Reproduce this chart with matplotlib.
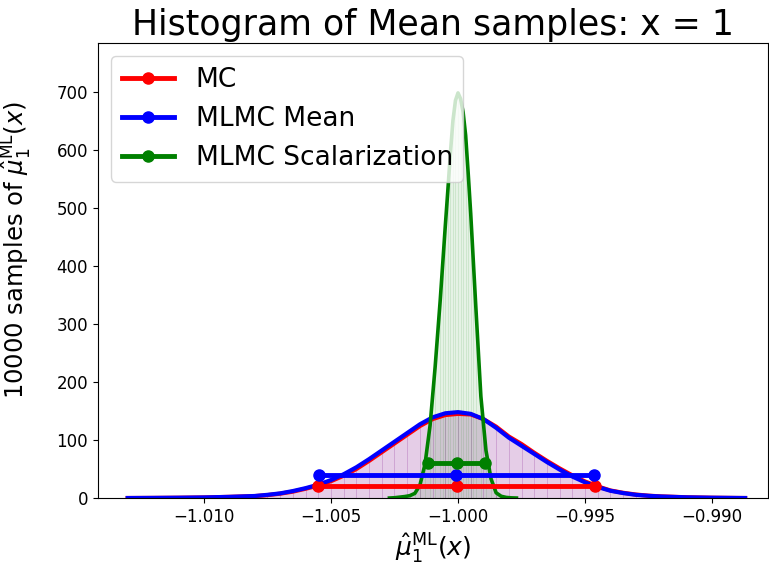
import numpy as np
import matplotlib
matplotlib.use("Agg")
import matplotlib.pyplot as plt

# ---- data ----
x_wide = [-1.0130, -1.0120, -1.0110, -1.0100, -1.0090, -1.0080, -1.0075, -1.0070,
          -1.0065, -1.0060, -1.0055, -1.0050, -1.0045, -1.0040, -1.0035, -1.0030,
          -1.0025, -1.0020, -1.0015, -1.0010, -1.0005, -1.0000, -0.9995, -0.9990,
          -0.9985, -0.9980, -0.9975, -0.9970, -0.9965, -0.9960, -0.9955, -0.9950,
          -0.9945, -0.9940, -0.9935, -0.9930, -0.9925, -0.9920, -0.9910, -0.9900,
          -0.9890, -0.9887]
mlmc_mean_curve = [0, 0.2, 0.5, 1, 2, 3.5, 5.5, 8,
                   12, 17, 23, 31, 41, 53, 67, 82,
                   97, 112, 127, 139, 146, 148, 145, 136,
                   121, 104, 90, 76, 62, 49, 37, 27,
                   19, 12.5, 8.5, 5.5, 3.8, 2.6, 1.2, 0.5,
                   0.1, 0]
mc_curve = [0, 0.2, 0.5, 1, 2, 3.3, 5, 7.5,
            11, 16, 21.5, 29, 38.5, 50, 64, 79,
            94, 109, 124, 136, 143, 145, 144, 136,
            123, 106, 93, 78, 64, 51, 39, 28.5,
            20, 13, 9, 6, 4, 2.8, 1.3, 0.5,
            0.1, 0]

x_narrow = [-1.0027, -1.0025, -1.0023, -1.0021, -1.0019, -1.0017, -1.0015, -1.0013,
            -1.0011, -1.0009, -1.0007, -1.0006, -1.0005, -1.0004, -1.0003, -1.0002,
            -1.0001, -1.0000, -0.9999, -0.9998, -0.9997, -0.9996, -0.9995, -0.9994,
            -0.9993, -0.9991, -0.9989, -0.9987, -0.9985, -0.9983, -0.9981, -0.9979,
            -0.9977]
scal_curve = [0, 0.5, 1.5, 2.5, 4, 8, 22, 58,
              125, 226, 341, 405, 469, 530, 594, 650,
              685, 698, 688, 665, 625, 560, 490, 410,
              330, 175, 82, 33, 9, 3, 1, 0.3,
              0]

# error bars: (low, centre, high) and plotting height
mc_ci = [-1.00550, -1.00005, -0.99461]
mlmc_ci = [-1.00547, -1.00006, -0.99465]
scal_ci = [-1.00120, -1.00005, -0.99893]
mc_level, mlmc_level, scal_level = 20, 40, 60

xticks = [-1.010, -1.005, -1.000, -0.995, -0.990]
yticks = [0, 100, 200, 300, 400, 500, 600, 700]

# ---- figure ----
fig = plt.figure(figsize=(7.69, 5.68), dpi=100)
ax = fig.add_axes([0.1274, 0.1232, 0.8713, 0.8011])

def fake_hist(xs, ys, color, alpha):
    ax.fill_between(xs, 0, ys, color=color, alpha=alpha, lw=0)
    ax.vlines(xs, 0, ys, color=color, alpha=alpha * 1.2, lw=0.6)

fake_hist(x_wide, mc_curve, "red", 0.10)
fake_hist(x_wide, mlmc_mean_curve, "blue", 0.10)
fake_hist(x_narrow, scal_curve, "green", 0.10)

ax.plot(x_wide, mc_curve, color="red", lw=3, solid_joinstyle="round")
ax.plot(x_wide, mlmc_mean_curve, color="blue", lw=3, solid_joinstyle="round")
ax.plot(x_narrow, scal_curve, color="green", lw=2.6, solid_joinstyle="round")

ax.plot(mc_ci, [mc_level] * 3, color="red", lw=3.5, marker="o", ms=8, label="MC")
ax.plot(mlmc_ci, [mlmc_level] * 3, color="blue", lw=3.5, marker="o", ms=8, label="MLMC Mean")
ax.plot(scal_ci, [scal_level] * 3, color="green", lw=3.5, marker="o", ms=8,
        label="MLMC Scalarization")

ax.set_xlim(-1.01417, -0.98780)
ax.set_ylim(0, 784)
ax.set_xticks(xticks)
ax.set_xticklabels([f"{t:.3f}".replace("-", "\u2212") for t in xticks], fontsize=12)
ax.set_yticks(yticks)
ax.set_yticklabels([str(t) for t in yticks], fontsize=12)

ax.set_title("Histogram of Mean samples: x = 1", fontsize=25)
ax.set_xlabel(r"$\hat{\mu}_1^{\mathrm{ML}}(x)$", fontsize=18)
ax.set_ylabel(r"10000 samples of $\hat{\mu}_1^{\mathrm{ML}}(x)$", fontsize=17.5)
ax.yaxis.set_label_coords(-0.095, 0.546)
ax.legend(loc="upper left", fontsize=19)

fig.savefig("out.png", dpi=100)
